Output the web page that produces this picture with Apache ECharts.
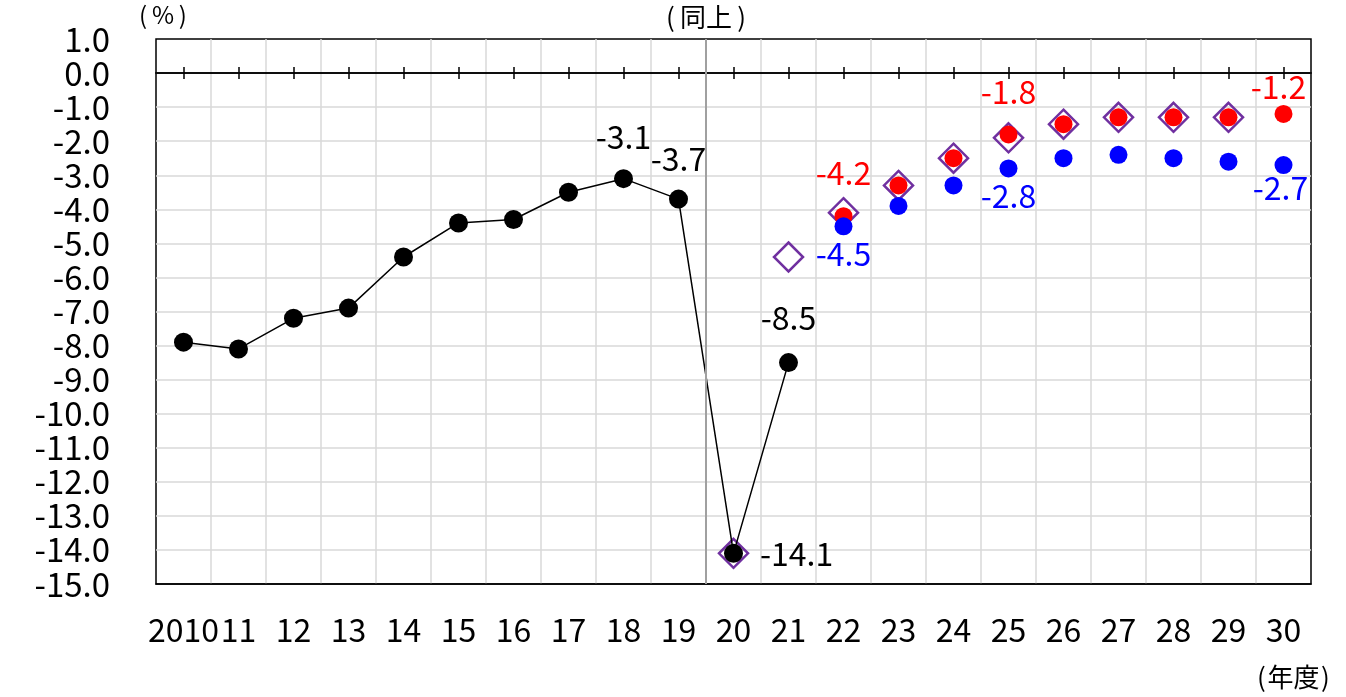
<!DOCTYPE html>
<html>
<head>
<meta charset="utf-8">
<script src="https://cdn.jsdelivr.net/npm/echarts@6/dist/echarts.min.js"></script>
<style>
html,body{margin:0;padding:0;background:#fff;}
#chart{width:1346px;height:697px;}
</style>
</head>
<body>
<div id="chart"></div>
<script>
// ---- data ----
const years = ['2010','11','12','13','14','15','16','17','18','19','20','21','22','23','24','25','26','27','28','29','30'];
const actual = [-7.9,-8.1,-7.2,-6.9,-5.4,-4.4,-4.3,-3.5,-3.1,-3.7,-14.1,-8.5,null,null,null,null,null,null,null,null,null];
const growthCase = [null,null,null,null,null,null,null,null,null,null,null,null,-4.2,-3.3,-2.5,-1.8,-1.5,-1.3,-1.3,-1.3,-1.2];
const baselineCase = [null,null,null,null,null,null,null,null,null,null,null,null,-4.5,-3.9,-3.3,-2.8,-2.5,-2.4,-2.5,-2.6,-2.7];
const previousEstimate = [null,null,null,null,null,null,null,null,null,null,-14.1,-5.4,-4.1,-3.3,-2.5,-1.9,-1.5,-1.3,-1.3,-1.3,null];
const yMin = -15, yMax = 1, yStep = 1;
const dividerBefore = '20';

const FONT = '"Noto Sans CJK JP", "Noto Sans", sans-serif';

// label placement (style, kept out of data)
const actualLabels = {
  8: {position:'top', distance:16},
  9: {position:'top', distance:15},
  10: {position:'right', distance:17},
  11: {position:'top', distance:19}
};
const growthLabels = {
  12: {position:'top', distance:18},
  15: {position:'top', distance:18},
  20: {position:'top', distance:2, offset:[-5,0]}
};
const baselineLabels = {
  12: {position:'bottom', distance:2},
  15: {position:'bottom', distance:2},
  20: {position:'bottom', distance:-2, offset:[-3,0]}
};

function build(values, labels, color) {
  return values.map((v, i) => {
    const item = {value: v};
    if (labels[i] && v != null) {
      item.label = Object.assign({
        show: true,
        color: color,
        fontSize: 32,
        fontFamily: FONT,
        formatter: (p) => Number(p.value).toFixed(1)
      }, labels[i]);
    }
    return item;
  });
}

const dividerIndex = years.indexOf(dividerBefore) - 0.5;

const chart = echarts.init(document.getElementById('chart'));
const option = {
  animation: false,
  backgroundColor: '#ffffff',
  grid: {left: 156, right: 35, top: 39, bottom: 113, show: true, borderColor: '#000', borderWidth: 1.5, backgroundColor: 'transparent'},
  xAxis: [
    {
      type: 'category', data: years, position: 'bottom', boundaryGap: true,
      axisLine: {show: true, onZero: false, lineStyle: {color: '#000', width: 1.5}},
      axisTick: {show: false},
      axisLabel: {color: '#000', fontSize: 32, fontFamily: FONT, margin: 30, interval: 0},
      splitLine: {show: true, showMinLine: false, showMaxLine: false, lineStyle: {color: '#d9d9d9', width: 1.5}}
    },
    {
      type: 'category', data: years, boundaryGap: true,
      axisLine: {show: true, onZero: true, onZeroAxisIndex: 0, lineStyle: {color: '#000', width: 1.5}},
      axisTick: {show: true, alignWithLabel: true, inside: true, length: 6, lineStyle: {color: '#000', width: 1.5}},
      axisLabel: {show: false},
      splitLine: {show: false}
    },
    {
      type: 'category', data: years, boundaryGap: true,
      axisLine: {show: true, onZero: true, onZeroAxisIndex: 1, lineStyle: {color: '#000', width: 1.5}},
      axisTick: {show: true, alignWithLabel: true, inside: false, length: 6, lineStyle: {color: '#000', width: 1.5}},
      axisLabel: {show: false},
      splitLine: {show: false}
    },
    {
      type: 'value', min: -0.5, max: years.length - 0.5, show: false
    }
  ],
  yAxis: [
    {
      type: 'value', min: yMin, max: yMax, interval: yStep,
      axisLine: {show: false, onZero: false},
      axisTick: {show: false},
      axisLabel: {color: '#000', fontSize: 33, fontFamily: FONT, margin: 46, formatter: (v) => v.toFixed(1)},
      splitLine: {show: true, showMinLine: false, showMaxLine: false, lineStyle: {color: '#d9d9d9', width: 1.5}}
    },
    {
      type: 'value', min: yMin, max: yMax, interval: yStep, show: false,
      axisLine: {onZero: false}, splitLine: {show: false}
    }
  ],
  series: [
    {
      name: 'divider', type: 'line', xAxisIndex: 3, yAxisIndex: 0, data: [],
      markLine: {
        silent: true, symbol: 'none', label: {show: false},
        lineStyle: {color: '#a0a0a0', width: 2, type: 'solid'},
        data: [{xAxis: dividerIndex}]
      }
    },
    {
      name: '前回試算', type: 'scatter', xAxisIndex: 0, yAxisIndex: 0,
      symbol: 'diamond', symbolSize: 29,
      itemStyle: {color: 'rgba(255,255,255,0)', borderColor: '#7030a0', borderWidth: 2.5, opacity: 1},
      data: previousEstimate, z: 2
    },
    {
      name: '実績', type: 'line', xAxisIndex: 0, yAxisIndex: 0,
      symbol: 'circle', symbolSize: 19, showAllSymbol: true, connectNulls: false,
      lineStyle: {color: '#000', width: 1.5},
      itemStyle: {color: '#000', opacity: 1},
      data: build(actual, actualLabels, '#000'), z: 3
    },
    {
      name: '成長実現ケース', type: 'scatter', xAxisIndex: 0, yAxisIndex: 0,
      symbol: 'circle', symbolSize: 18,
      itemStyle: {color: '#ff0000', opacity: 1},
      data: build(growthCase, growthLabels, '#ff0000'), z: 4
    },
    {
      name: 'ベースラインケース', type: 'scatter', xAxisIndex: 0, yAxisIndex: 0,
      symbol: 'circle', symbolSize: 18,
      itemStyle: {color: '#0000ff', opacity: 1},
      data: build(baselineCase, baselineLabels, '#0000ff'), z: 5
    }
  ],
  graphic: [
    {type: 'text', left: 139, top: 3, style: {text: '(\u2009%\u2009)', font: '24px ' + FONT, fill: '#000'}},
    {type: 'text', left: 666, top: 4, style: {text: '(\u2009同上\u2009)', font: '26px ' + FONT, fill: '#000'}},
    {type: 'text', left: 1257, top: 664, style: {text: '(\u200A年度\u200A)', font: '26px ' + FONT, fill: '#000'}}
  ]
};
chart.setOption(option);
</script>
</body>
</html>
